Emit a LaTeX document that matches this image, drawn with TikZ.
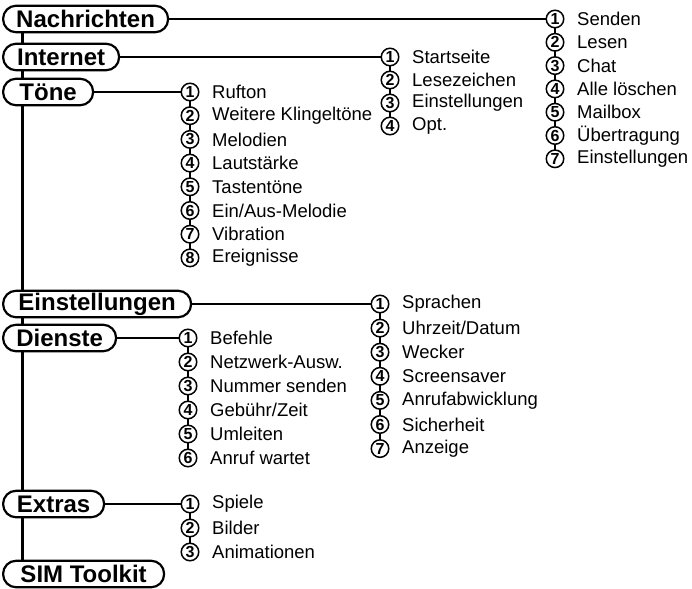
\documentclass[tikz,border=0pt]{standalone}
\usepackage{fontspec}
\setmainfont{Liberation Sans}
\usetikzlibrary{backgrounds,calc}
\tikzset{
  hdr/.style={draw, line width=2.2pt, fill=white, rounded corners=13pt, minimum height=26.5pt,
    anchor=west, inner sep=0pt, font=\bfseries\fontsize{24}{26}\selectfont},
  num/.style={circle, draw, line width=1.5pt, fill=white, minimum size=17.5pt, inner sep=0pt,
    font=\bfseries\fontsize{16}{16}\selectfont},
  itm/.style={anchor=west, inner sep=0pt, font=\fontsize{18.5}{20}\selectfont},
  hline/.style={line width=2.6pt},
  vline/.style={line width=2pt},
  trunk/.style={line width=3pt}
}
\newcommand{\menulist}[6]{% prefix, x, y, spacing, items, count
  \foreach \t [count=\i] in {#5} {
    \node[num] (#1\i) at (#2,{#3+(\i-1)*#4}) {\i};
    \node[itm] (#1t\i) at ($(#1\i)+(22,0)$) {\t};
  }
  \begin{scope}[on background layer]
    \draw[vline] (#11.center) -- (#1#6.center);
  \end{scope}
}
\begin{document}
\begin{tikzpicture}[x=1pt,y=-1pt]
\useasboundingbox (0,0) rectangle (692,588);
\node[hdr, minimum width=165pt] (nach) at (2,19) {Nachrichten};
\node[hdr, minimum width=116pt] (inet) at (2,57) {Internet};
\node[hdr, minimum width=90pt] (toene) at (2,92) {Töne};
\node[hdr, minimum width=188pt] (einst) at (2,304) {Einstellungen};
\node[hdr, minimum width=113pt] (dien) at (2,338) {Dienste};
\node[hdr, minimum width=101pt] (extr) at (2,504) {Extras};
\node[hdr, minimum width=161pt] (sim) at (2,574) {SIM Toolkit};
\begin{scope}[on background layer]
\draw[trunk] ($(nach.west)+(20,0)$) -- ($(sim.west)+(20,0)$);
\end{scope}
\menulist{a}{555}{19}{23.3}{Senden,Lesen,Chat,Alle löschen,Mailbox,Übertragung,Einstellungen}{7}
\menulist{b}{390}{57}{23}{Startseite,Lesezeichen,Einstellungen,Opt.}{4}
\menulist{c}{190}{92}{23.7}{Rufton,Weitere Klingeltöne,Melodien,Lautstärke,Tastentöne,Ein/Aus-Melodie,Vibration,Ereignisse}{8}
\menulist{d}{380}{304}{24.1}{Sprachen,Uhrzeit/Datum,Wecker,Screensaver,Anrufabwicklung,Sicherheit,Anzeige}{7}
\menulist{e}{188}{338}{24}{Befehle,Netzwerk-Ausw.,Nummer senden,Gebühr/Zeit,Umleiten,Anruf wartet}{6}
\menulist{f}{190}{504}{24}{Spiele,Bilder,Animationen}{3}
\draw[hline] (nach.east) -- (a1.west);
\draw[hline] (inet.east) -- (b1.west);
\draw[hline] (toene.east) -- (c1.west);
\draw[hline] (einst.east) -- (d1.west);
\draw[hline] (dien.east) -- (e1.west);
\draw[hline] (extr.east) -- (f1.west);
\end{tikzpicture}
\end{document}
